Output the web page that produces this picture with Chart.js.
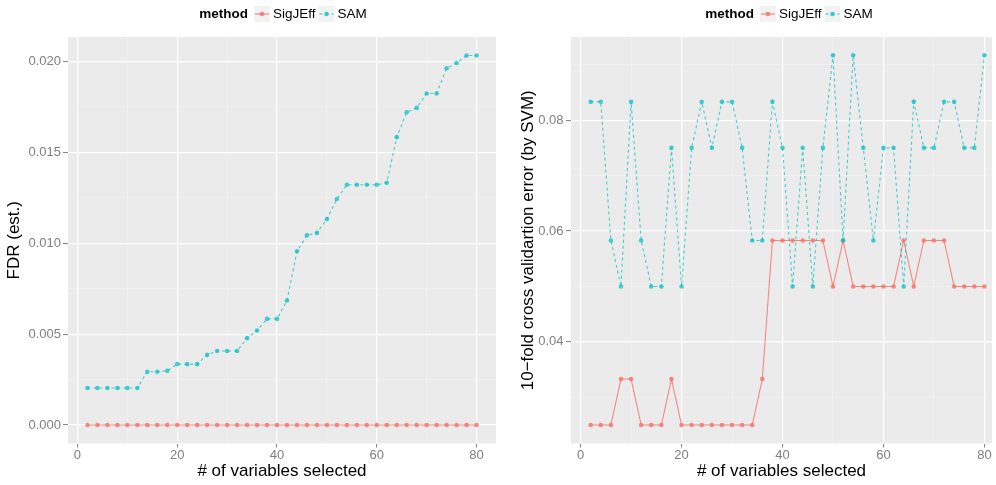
<!DOCTYPE html>
<html>
<head>
<meta charset="utf-8">
<script src="https://cdn.jsdelivr.net/npm/chart.js@4.4.1/dist/chart.umd.min.js"></script>
<style>
  html, body { margin: 0; padding: 0; background: #fff; }
  #wrap { position: relative; width: 996px; height: 485px; overflow: hidden; }
  canvas { position: absolute; top: 0; }
  #fdrChart { left: 0; }
  #cvChart { left: 500px; }
</style>
</head>
<body>
<div id="wrap">
  <canvas id="fdrChart" width="500" height="485"></canvas>
  <canvas id="cvChart" width="496" height="485"></canvas>
</div>
<script>
// # of variables selected
const varsSelected = [2, 4, 6, 8, 10, 12, 14, 16, 18, 20, 22, 24, 26, 28, 30, 32, 34, 36, 38, 40,
  42, 44, 46, 48, 50, 52, 54, 56, 58, 60, 62, 64, 66, 68, 70, 72, 74, 76, 78, 80];

const methods = ["SigJEff", "SAM"];
const methodColors = ["rgba(248,118,109,0.85)", "rgba(0,191,196,0.72)"];

// left panel: FDR (est.)
const fdrSigJEff = [0, 0, 0, 0, 0, 0, 0, 0, 0, 0, 0, 0, 0, 0, 0, 0, 0, 0, 0, 0,
  0, 0, 0, 0, 0, 0, 0, 0, 0, 0, 0, 0, 0, 0, 0, 0, 0, 0, 0, 0];
const fdrSAM = [0.00204, 0.00204, 0.00204, 0.00204, 0.00204, 0.00204, 0.00293, 0.00293, 0.00298, 0.00335,
  0.00335, 0.00335, 0.00386, 0.00407, 0.00407, 0.00407, 0.00478, 0.0052, 0.00584, 0.00584,
  0.00685, 0.00956, 0.01044, 0.01057, 0.01133, 0.01244, 0.01322, 0.01322, 0.01322, 0.01322,
  0.01333, 0.01584, 0.01721, 0.01745, 0.01824, 0.01824, 0.01963, 0.01992, 0.02033, 0.02033];

// right panel: 10-fold CV error
const cvSigJEff = [0.025, 0.025, 0.025, 0.0333, 0.0333, 0.025, 0.025, 0.025, 0.0333, 0.025,
  0.025, 0.025, 0.025, 0.025, 0.025, 0.025, 0.025, 0.0333, 0.0583, 0.0583,
  0.0583, 0.0583, 0.0583, 0.0583, 0.05, 0.0583, 0.05, 0.05, 0.05, 0.05,
  0.05, 0.0583, 0.05, 0.0583, 0.0583, 0.0583, 0.05, 0.05, 0.05, 0.05];
const cvSAM = [0.0833, 0.0833, 0.0583, 0.05, 0.0833, 0.0583, 0.05, 0.05, 0.075, 0.05,
  0.075, 0.0833, 0.075, 0.0833, 0.0833, 0.075, 0.0583, 0.0583, 0.0833, 0.075,
  0.05, 0.075, 0.05, 0.075, 0.0917, 0.0583, 0.0917, 0.075, 0.0583, 0.075,
  0.075, 0.05, 0.0833, 0.075, 0.075, 0.0833, 0.0833, 0.075, 0.075, 0.0917];

const xTicks = [0, 20, 40, 60, 80];
const xTickLabels = ["0", "20", "40", "60", "80"];
const xMinorTicks = [10, 30, 50, 70];
const fdrTicks = [0, 0.005, 0.01, 0.015, 0.02];
const fdrTickLabels = ["0.000", "0.005", "0.010", "0.015", "0.020"];
const fdrMinorTicks = [0.0025, 0.0075, 0.0125, 0.0175];
const cvTicks = [0.04, 0.06, 0.08];
const cvTickLabels = ["0.04", "0.06", "0.08"];
const cvMinorTicks = [0.03, 0.05, 0.07, 0.09];

const FONT = '"Liberation Sans", Arial, Helvetica, sans-serif';

function findTick(list, v) {
  return list.findIndex((t) => Math.abs(t - v) < 1e-9);
}

function panelAxis(major, labels, minor, opts) {
  const isMajor = (c) => c.tick && findTick(major, c.tick.value) >= 0;
  return {
    type: "linear",
    min: opts.min,
    max: opts.max,
    afterBuildTicks: (s) => {
      s.ticks = major.concat(minor).sort((a, b) => a - b).map((v) => ({ value: v }));
    },
    afterFit: (s) => {
      if (opts.width) s.width = opts.width;
      if (opts.height) s.height = opts.height;
      s.paddingLeft = 0;
      s.paddingRight = 0;
      s.paddingTop = 0;
      s.paddingBottom = 0;
    },
    border: { display: false },
    grid: {
      color: (c) => (isMajor(c) ? "#FFFFFF" : "#F4F4F4"),
      lineWidth: (c) => (isMajor(c) ? 1.2 : 0.6),
      tickColor: (c) => (isMajor(c) ? "#7F7F7F" : "rgba(0,0,0,0)"),
      tickLength: opts.tickLength,
      tickWidth: 1,
    },
    ticks: {
      autoSkip: false,
      maxRotation: 0,
      padding: opts.padding,
      color: "#7F7F7F",
      font: { family: FONT, size: 13 },
      callback: (v) => {
        const i = findTick(major, v);
        return i >= 0 ? labels[i] : "";
      },
    },
    title: {
      display: true,
      text: opts.title,
      color: "#000000",
      font: { family: FONT, size: 17 },
      padding: opts.titlePadding,
    },
  };
}

const panelBackground = {
  id: "panelBackground",
  beforeDraw(chart) {
    const a = chart.chartArea;
    const ctx = chart.ctx;
    ctx.save();
    ctx.fillStyle = "#EBEBEB";
    ctx.fillRect(a.left, a.top, a.right - a.left, a.bottom - a.top);
    ctx.restore();
  },
};

const methodLegend = {
  id: "methodLegend",
  afterDraw(chart, args, opts) {
    const ctx = chart.ctx;
    const y = 14;
    const keyW = 16;
    ctx.save();
    ctx.textBaseline = "middle";
    ctx.font = "bold 13.5px " + FONT;
    const titleW = ctx.measureText("method").width;
    ctx.font = "13.5px " + FONT;
    const labelW = methods.map((m) => ctx.measureText(m).width);
    let total = titleW + 6;
    labelW.forEach((w, i) => { total += keyW + 3 + w + (i < methods.length - 1 ? 3 : 0); });
    let x = opts.centerX - total / 2;
    ctx.fillStyle = "#000";
    ctx.font = "bold 13.5px " + FONT;
    ctx.fillText("method", x, y);
    x += titleW + 6;
    ctx.font = "13.5px " + FONT;
    methods.forEach((m, i) => {
      ctx.fillStyle = "#F2F2F2";
      ctx.fillRect(x, y - 8, keyW, 16);
      ctx.strokeStyle = methodColors[i];
      ctx.lineWidth = 1.2;
      ctx.setLineDash(i === 1 ? [3, 3] : []);
      ctx.beginPath();
      ctx.moveTo(x + 1, y);
      ctx.lineTo(x + keyW - 1, y);
      ctx.stroke();
      ctx.setLineDash([]);
      ctx.fillStyle = methodColors[i];
      ctx.beginPath();
      ctx.arc(x + keyW / 2, y, 2.3, 0, Math.PI * 2);
      ctx.fill();
      x += keyW + 3;
      ctx.fillStyle = "#000";
      ctx.fillText(m, x, y);
      x += labelW[i] + 3;
    });
    ctx.restore();
  },
};

function makeDatasets(seriesList) {
  return seriesList.map((vals, i) => ({
    label: methods[i],
    data: varsSelected.map((x, j) => ({ x, y: vals[j] })),
    borderColor: methodColors[i],
    backgroundColor: methodColors[i],
    borderWidth: 1.1,
    borderDash: i === 1 ? [3, 3] : [],
    pointRadius: 2.3,
    pointBorderWidth: 0,
    pointBackgroundColor: methodColors[i],
    tension: 0,
    order: i === 1 ? 0 : 1,
  }));
}

function renderPanel(canvasId, seriesList, cfg) {
  const canvas = document.getElementById(canvasId);
  if (!canvas || typeof Chart === "undefined") return;
  // eslint-disable-next-line no-new
  new Chart(canvas, {
    type: "line",
    data: { datasets: makeDatasets(seriesList) },
    options: {
      responsive: false,
      animation: false,
      devicePixelRatio: 1,
      layout: { padding: { top: 37, left: 0, right: cfg.rightPad, bottom: 0 } },
      plugins: {
        legend: { display: false },
        tooltip: { enabled: false },
        methodLegend: { centerX: cfg.legendX },
      },
      scales: {
        x: panelAxis(xTicks, xTickLabels, xMinorTicks, {
          min: -1.9, max: cfg.xMax, height: 41.5, tickLength: 4, padding: 0,
          title: "# of variables selected", titlePadding: { top: 0, bottom: 3.8 },
        }),
        y: panelAxis(cfg.yTicks, cfg.yLabels, cfg.yMinor, {
          min: cfg.yMin, max: cfg.yMax, width: cfg.yWidth, tickLength: 5, padding: cfg.yPad,
          title: cfg.yTitle, titlePadding: { top: cfg.yTitlePad, bottom: 0 },
        }),
      },
    },
    plugins: [panelBackground, methodLegend],
  });
}

renderPanel("fdrChart", [fdrSigJEff, fdrSAM], {
  rightPad: 2, legendX: 283, xMax: 83.9, yWidth: 68, yPad: 2,
  yMin: -0.001017, yMax: 0.02135,
  yTicks: fdrTicks, yLabels: fdrTickLabels, yMinor: fdrMinorTicks,
  yTitle: "FDR (est.)", yTitlePad: 3.8,
});

renderPanel("cvChart", [cvSigJEff, cvSAM], {
  rightPad: 0, legendX: 289, xMax: 81.5, yWidth: 71, yPad: 2.5,
  yMin: 0.02167, yMax: 0.095,
  yTicks: cvTicks, yLabels: cvTickLabels, yMinor: cvMinorTicks,
  yTitle: "10\u2212fold cross validartion error (by SVM)", yTitlePad: 18.4,
});
</script>
</body>
</html>
